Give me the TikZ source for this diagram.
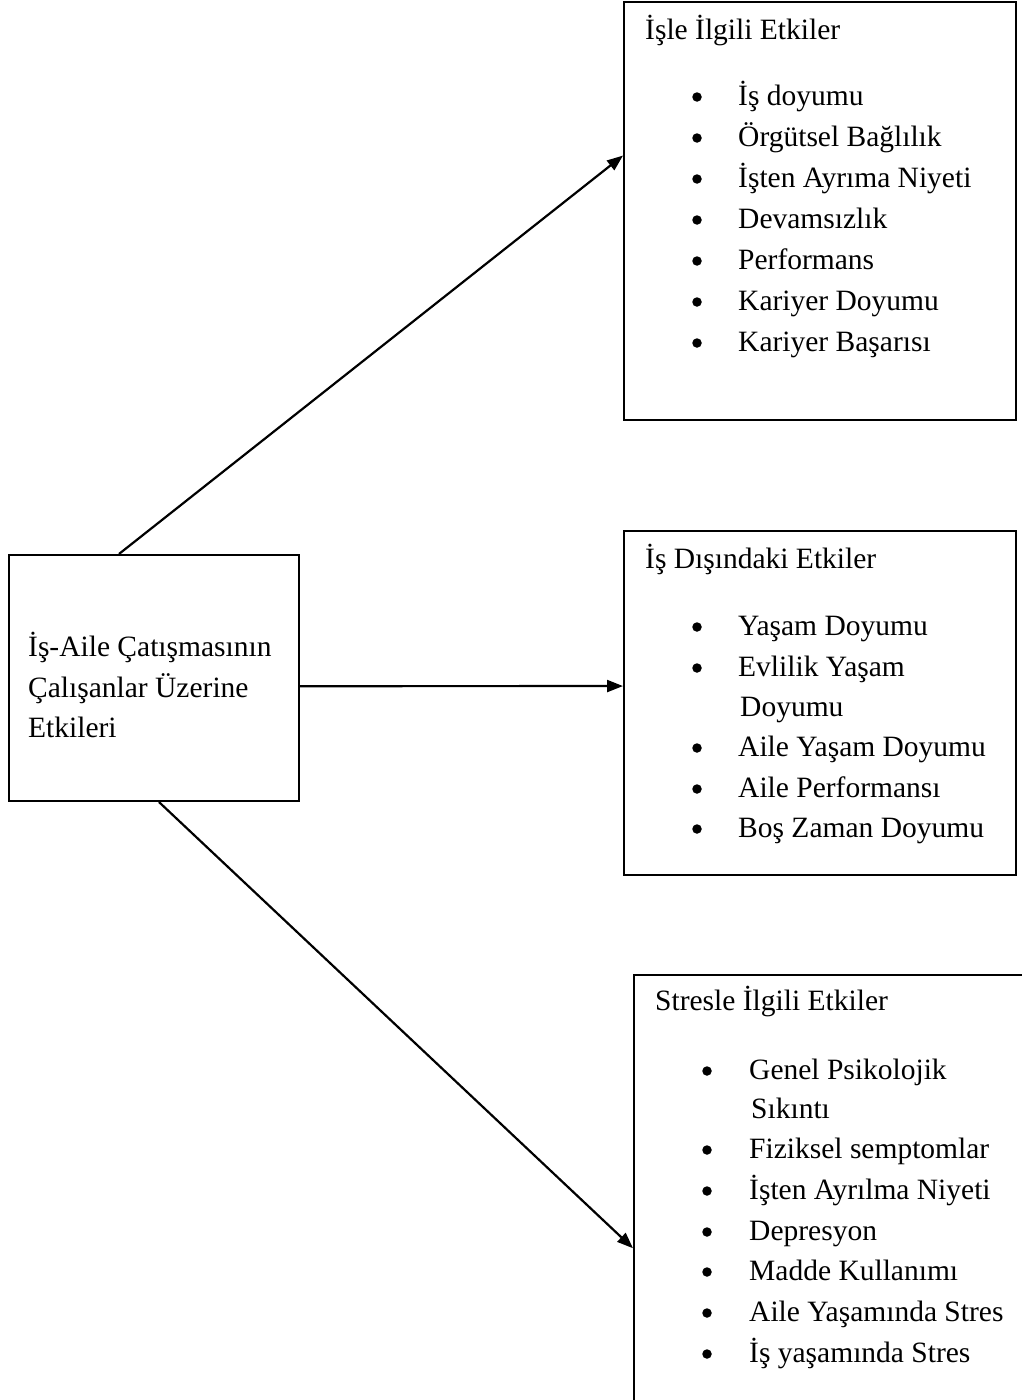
\documentclass[tikz,border=0pt]{standalone}
\usepackage{fontspec}
\setmainfont{Liberation Serif}
\usetikzlibrary{arrows.meta,calc}

\tikzset{
  box/.style={draw, line width=2pt, rectangle, anchor=north west, inner sep=0pt},
  lbl/.style={anchor=base west, inner sep=0pt, font=\fontsize{29.5}{40}\selectfont},
  dot/.style={fill, circle, inner sep=0pt, minimum size=9.5pt},
  effect/.style={-{Triangle[length=16pt,width=12pt]}, line width=2.2pt},
}

\begin{document}
\begin{tikzpicture}[x=1pt,y=-1pt]
  \useasboundingbox (0,0) rectangle (1022,1400);
  \clip (0,0) rectangle (1022,1400);

  % boxes
  \node[box, minimum width=290pt, minimum height=246pt] (cause) at (8,554) {};
  \node[box, minimum width=392pt, minimum height=418pt] (work) at (623,1) {};
  \node[box, minimum width=392pt, minimum height=344pt] (home) at (623,530) {};
  \node[box, minimum width=430pt, minimum height=470pt] (stress) at (633,974) {};

  % left box text
  \node[lbl] (cause1) at (28,656) {İş-Aile Çatışmasının};
  \node[lbl] (cause2) at (28,697) {Çalışanlar Üzerine};
  \node[lbl] (cause3) at (28,737) {Etkileri};

  % work related
  \node[lbl] (workT) at (645,39) {İşle İlgili Etkiler};
  \foreach \eff/\yy in {İş doyumu/105, Örgütsel Bağlılık/146, İşten Ayrıma Niyeti/187,
      Devamsızlık/228, Performans/269, Kariyer Doyumu/310, Kariyer Başarısı/351} {
    \node[dot] at (697,\yy-8) {};
    \node[lbl] at (738,\yy) {\eff};
  }

  % outside work
  \node[lbl] (homeT) at (645,568) {İş Dışındaki Etkiler};
  \foreach \eff/\yy in {Yaşam Doyumu/635, Evlilik Yaşam/676, Aile Yaşam Doyumu/756,
      Aile Performansı/797, Boş Zaman Doyumu/837} {
    \node[dot] at (697,\yy-8) {};
    \node[lbl] at (738,\yy) {\eff};
  }
  \node[lbl] at (740,716) {Doyumu};

  % stress related
  \node[lbl] (stressT) at (655,1010) {Stresle İlgili Etkiler};
  \foreach \eff/\yy in {Genel Psikolojik/1079, Fiziksel semptomlar/1158, İşten Ayrılma Niyeti/1199,
      Depresyon/1240, Madde Kullanımı/1280, Aile Yaşamında Stres/1321, İş yaşamında Stres/1362} {
    \node[dot] at (707,\yy-8) {};
    \node[lbl] at (749,\yy) {\eff};
  }
  \node[lbl] at (751,1118) {Sıkıntı};

  % arrows
  \draw[effect] ($(cause.north west)!.38!(cause.north east)$) -- ($(work.north west)!.368!(work.south west)$);
  \draw[effect] ($(cause.north east)!.533!(cause.south east)$) -- ($(home.north west)!.451!(home.south west)$);
  \draw[effect] ($(cause.south west)!.517!(cause.south east)$) -- ($(stress.north west)!.581!(stress.south west)$);
\end{tikzpicture}
\end{document}
